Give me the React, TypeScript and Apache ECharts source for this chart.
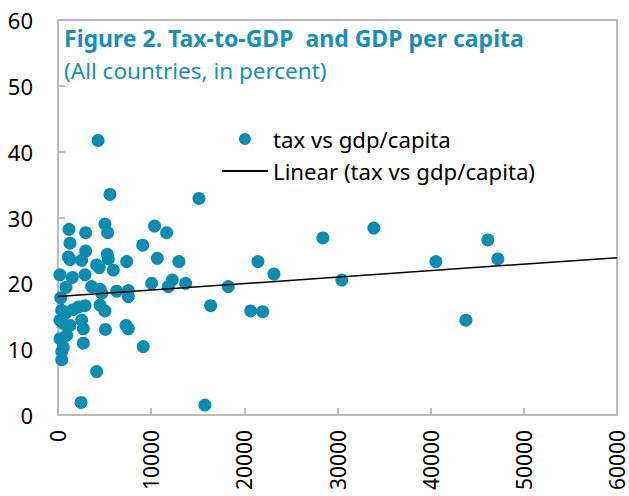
import React, { useEffect, useRef } from "react";
import * as echarts from "echarts";

// GDP per capita (x) vs tax-to-GDP (y)
const gdpPerCapita: number[] = [
  4300, 5580, 15130, 28430, 33900, 46140, 47210, 40560, 30470, 43780,
  23180, 21460, 21970, 20680, 18270, 16380, 15770, 10370, 11660, 10660,
  12980, 10050, 11840, 12260, 13700, 9090, 9150, 4150, 2470,
  1180, 2970, 5040, 5330, 1290, 2970, 1110, 1290, 2540, 5290,
  5400, 4150, 4430, 5940, 7370, 210, 1540, 2900, 860, 3610,
  4510, 4690, 6300, 7550, 7550, 290, 400, 930, 1640, 2180,
  2900, 4510, 5040, 215, 570, 1290, 2540, 2720, 5100, 7300,
  7550, 215, 930, 2720, 570, 400, 400,
];
const taxToGdp: number[] = [
  41.7, 33.5, 32.9, 26.9, 28.4, 26.6, 23.7, 23.3, 20.5, 14.4,
  21.4, 23.3, 15.7, 15.8, 19.5, 16.6, 1.5, 28.7, 27.7, 23.8,
  23.3, 20.0, 19.5, 20.5, 20.0, 25.8, 10.4, 6.6, 1.9,
  28.2, 27.7, 29.0, 27.7, 26.1, 24.9, 24.0, 23.6, 23.5, 24.4,
  23.7, 22.8, 22.4, 22.0, 23.3, 21.3, 20.9, 21.3, 19.4, 19.5,
  19.1, 18.5, 18.8, 18.9, 18.0, 17.8, 15.9, 15.6, 16.0, 16.4,
  16.6, 16.7, 15.8, 14.4, 13.9, 13.6, 14.4, 13.1, 13.0, 13.6,
  13.1, 11.6, 12.1, 10.9, 10.3, 9.6, 8.4,
];
// Linear trend line end points (x, y)
const trendX: number[] = [0, 60000];
const trendY: number[] = [18.0, 23.9];

const titleText = "Figure 2. Tax-to-GDP  and GDP per capita";
const subtitleText = "(All countries, in percent)";
const scatterName = "tax vs gdp/capita";
const trendName = "Linear (tax vs gdp/capita)";

const FONT = "Noto Sans";
const TEAL = "#0A8DB0";
const TITLE_TEAL = "#1590B8";
const GRAY = "#BDBDBD";

export default function App() {
  const ref = useRef<HTMLDivElement>(null);
  useEffect(() => {
    if (!ref.current) return;
    const chart = echarts.init(ref.current, undefined, { renderer: "svg" });
    const scatterData = gdpPerCapita.map((x, i) => [x, taxToGdp[i]]);
    const trendData = trendX.map((x, i) => [x, trendY[i]]);
    chart.setOption({
      animation: false,
      backgroundColor: "#fff",
      textStyle: { fontFamily: FONT },
      title: {
        text: titleText,
        subtext: subtitleText,
        left: 59,
        top: 21,
        itemGap: 10,
        textStyle: { fontFamily: FONT, fontSize: 23, fontWeight: "bold", color: TITLE_TEAL },
        subtextStyle: { fontFamily: FONT, fontSize: 22.5, color: TITLE_TEAL },
      },
      legend: {
        orient: "vertical",
        left: 216,
        top: 123,
        itemWidth: 46,
        itemHeight: 12,
        itemGap: 10,
        textStyle: { fontFamily: FONT, fontSize: 22.2, color: "#000" },
        data: [
          { name: scatterName },
          { name: trendName, itemStyle: { opacity: 0 } },
        ],
      },
      grid: {
        left: 58,
        right: 12,
        top: 20,
        bottom: 81,
        show: true,
        borderColor: GRAY,
        borderWidth: 2,
      },
      xAxis: {
        type: "value",
        min: 0,
        max: 60000,
        interval: 10000,
        splitLine: { show: false },
        axisLine: { show: true, lineStyle: { color: GRAY, width: 2 } },
        axisTick: { show: true, inside: true, length: 7, lineStyle: { color: GRAY, width: 2 } },
        axisLabel: {
          rotate: 90,
          margin: 15,
          fontSize: 21,
          color: "#000",
          fontFamily: FONT,
          formatter: (v: number) => String(v),
        },
      },
      yAxis: {
        type: "value",
        min: 0,
        max: 60,
        interval: 10,
        splitLine: { show: false },
        axisLine: { show: true, lineStyle: { color: GRAY, width: 2 } },
        axisTick: { show: true, inside: true, length: 7, lineStyle: { color: GRAY, width: 2 } },
        axisLabel: { margin: 25, fontSize: 22, color: "#000", fontFamily: FONT },
      },
      series: [
        {
          name: scatterName,
          type: "scatter",
          data: scatterData,
          symbol: "circle",
          symbolSize: 13,
          itemStyle: { color: TEAL, opacity: 1 },
        },
        {
          name: trendName,
          type: "line",
          data: trendData,
          symbol: "none",
          lineStyle: { color: "#000", width: 1.5 },
          z: 3,
        },
      ],
    });
    return () => chart.dispose();
  }, []);
  return (
    <div
      ref={ref}
      style={{ position: "fixed", left: 0, top: 0, width: 629, height: 496 }}
    />
  );
}
